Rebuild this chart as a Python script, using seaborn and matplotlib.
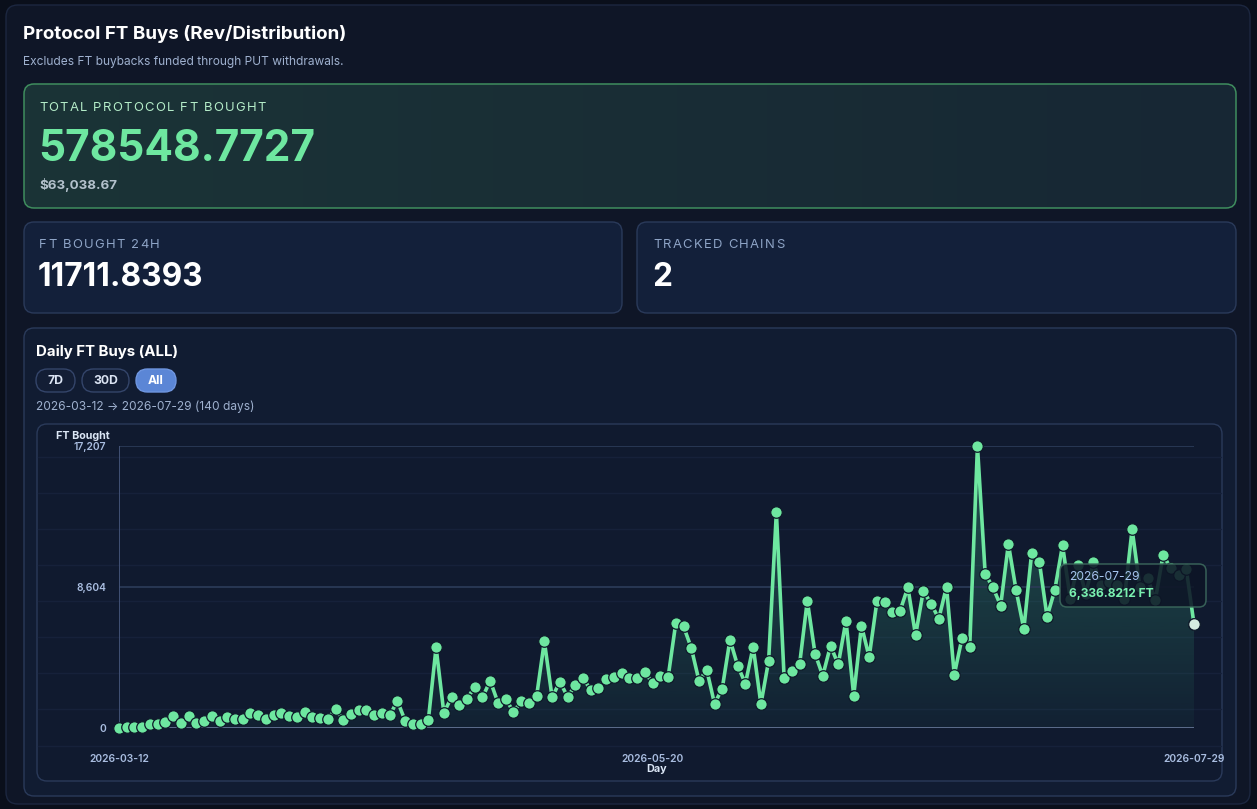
import numpy as np
import pandas as pd
import matplotlib
matplotlib.use("Agg")
import matplotlib.pyplot as plt
import seaborn as sns
from matplotlib.patches import FancyBboxPatch

# ─── Data ────────────────────────────────────────────────────────────────────

days = pd.date_range("2026-03-12", "2026-07-29", freq="D")
ft_bought = [
    0, 60, 80, 80, 225, 260, 385, 730, 305, 730,
    285, 425, 730, 445, 650, 530, 530, 935, 795, 530,
    795, 935, 730, 650, 995, 650, 590, 550, 1160, 490,
    835, 1100, 1100, 795, 895, 770, 1650, 445, 260, 225,
    490, 4925, 935, 1875, 1400, 1770, 2520, 1875, 2885, 1545,
    1790, 975, 1630, 1505, 1950, 5290, 1875, 2825, 1910, 2605,
    3050, 2320, 2440, 3010, 3095, 3375, 3050, 3050, 3415, 2725,
    3155, 3095, 6425, 6200, 4880, 2870, 3540, 1485, 2410, 5390,
    3790, 2715, 4960, 1455, 4105, 13180, 3070, 3455, 3875, 7770,
    4535, 3190, 5020, 3885, 6545, 1970, 6245, 4330, 7730, 7710,
    7060, 7160, 8585, 5655, 8380, 7585, 6670, 8620, 3250, 5475,
    4960, 17207, 9400, 8585, 7465, 11230, 8400, 6040, 10660, 10150,
    6790, 8420, 11150, 7900, 9950, 8200, 10100, 8700, 8900, 8700,
    7900, 12125, 8600, 9150, 7800, 10560, 9750, 9350, 9700, 6336.8212,
]
y_ticks = [0, 8604, 17207]
y_tick_labels = ["0", "8,604", "17,207"]
x_tick_days = ["2026-03-12", "2026-05-20", "2026-07-29"]

total_ft = "578548.7727"
total_usd = "$63,038.67"
ft_24h = "11711.8393"
tracked_chains = "2"
hover_day = "2026-07-29"
hover_value = "6,336.8212 FT"

# ─── Style ───────────────────────────────────────────────────────────────────

sns.set_theme(style="dark")
plt.rcParams["font.family"] = ["Inter", "DejaVu Sans"]

W, H = 1257, 809
GREEN = "#6ee7a0"
PAGE = "#0a0f1b"
PANEL = "#0f1627"
CARD = "#13203a"
BORDER = "#2a3a5a"

fig = plt.figure(figsize=(W / 100, H / 100), dpi=100, facecolor=PAGE)
renderer = fig.canvas.get_renderer()

# background layer in pixel coordinates
bg = fig.add_axes([0, 0, 1, 1], zorder=0)
bg.set_xlim(0, W)
bg.set_ylim(H, 0)
bg.axis("off")


def box(ax, x0, y0, x1, y1, fc, ec, r=10, lw=1.0, alpha=1.0, z=1):
    p = FancyBboxPatch((x0, y0), x1 - x0, y1 - y0,
                       boxstyle=f"round,pad=0,rounding_size={r}",
                       fc=fc, ec=ec, lw=lw, alpha=alpha, zorder=z)
    ax.add_patch(p)
    return p


def spaced_text(ax, x, y, s, spacing=1.3, **kw):
    # letter-spaced label, one glyph at a time
    for ch in s:
        t = ax.text(x, y, ch, va="center", **kw)
        x += t.get_window_extent(renderer).width + spacing


box(bg, 6, 5, 1250, 804, PANEL, "#1c2740", r=12)

# total card with horizontal gradient
card = box(bg, 24, 84, 1236, 208, "none", "#3f8d5e", r=10, lw=1.1, z=3)
grad = np.linspace(0, 1, 256)[None, :]
cmap = matplotlib.colors.LinearSegmentedColormap.from_list("g", ["#1b3437", "#172734"])
im = bg.imshow(grad, extent=(24, 1236, 208, 84), cmap=cmap, aspect="auto", zorder=2)
im.set_clip_path(card)

box(bg, 24, 222, 622, 313, CARD, BORDER, r=10)
box(bg, 637, 222, 1236, 313, CARD, BORDER, r=10)
box(bg, 24, 328, 1236, 796, "#111c32", BORDER, r=10)
box(bg, 37, 424, 1222, 781, "#101a2f", BORDER, r=10)

# faint stripe lines in chart frame
for yy in np.arange(456.7, 781, 36.1):
    bg.plot([38, 1221], [yy, yy], color="#16213a", lw=1, zorder=2)

bg.text(23, 34, "Protocol FT Buys (Rev/Distribution)", color="white",
        fontsize=13.5, fontweight="bold", va="center")
bg.text(23, 62, "Excludes FT buybacks funded through PUT withdrawals.",
        color="#9fb1cf", fontsize=8.6, va="center")

spaced_text(bg, 39, 108, "TOTAL PROTOCOL FT BOUGHT", color="#b4ecc8",
            fontsize=9.4, zorder=4)
bg.text(38, 149, total_ft, color=GREEN, fontsize=30.5, fontweight="bold",
        va="center", zorder=4)
bg.text(39, 185, total_usd, color="#b3c1cc", fontsize=9.6, fontweight="bold",
        va="center", zorder=4)

spaced_text(bg, 39, 245, "FT BOUGHT 24H", color="#8ea4c6", fontsize=9.4)
bg.text(38, 278, ft_24h, color="white", fontsize=22.8, fontweight="bold",
        va="center")
spaced_text(bg, 653, 245, "TRACKED CHAINS", color="#8ea4c6", fontsize=9.4)
bg.text(652, 278, tracked_chains, color="white", fontsize=22.8,
        fontweight="bold", va="center")

bg.text(36, 352, "Daily FT Buys (ALL)", color="white", fontsize=10.8,
        fontweight="bold", va="center")
for (x0, x1, lab, active) in [(36, 75, "7D", False), (82, 129, "30D", False),
                              (136, 176, "All", True)]:
    box(bg, x0, 369, x1, 392, "#5b86d6" if active else "#131e35",
        "#6f96e0" if active else "#34456a", r=11.5, z=2)
    bg.text((x0 + x1) / 2, 381, lab, color="white" if active else "#dbe4f3",
            fontsize=8.8, fontweight="bold", ha="center", va="center", zorder=3)
bg.text(36, 407, f"{days[0]:%Y-%m-%d} \u2192 {days[-1]:%Y-%m-%d} ({len(days)} days)",
        color="#9fb1cf", fontsize=8.6, va="center")

# ─── Chart ───────────────────────────────────────────────────────────────────

df = pd.DataFrame({"day": (days - days[0]).days, "ft": ft_bought})

left, right, top, bottom = 119, 1194, 446, 728
ax = fig.add_axes([left / W, (H - bottom) / H, (right - left) / W, (bottom - top) / H],
                  zorder=2)
ax.set_facecolor("none")
ax.set_xlim(df["day"].iloc[0], df["day"].iloc[-1])
ax.set_ylim(0, y_ticks[-1])

# gradient area under the line
fill = ax.fill_between(df["day"], df["ft"], 0, color="none", lw=0)
area_grad = np.linspace(0.42, 0.05, 256)[:, None]
rgba = np.zeros((256, 1, 4))
rgba[..., :3] = matplotlib.colors.to_rgb("#3aa57c")
rgba[..., 3] = area_grad
area = ax.imshow(rgba, extent=(df["day"].iloc[0], df["day"].iloc[-1], 0, y_ticks[-1]),
                 aspect="auto", origin="upper", zorder=1)
area.set_clip_path(fill.get_paths()[0], transform=ax.transData)

for yt in y_ticks:
    ax.axhline(yt, color="#2a3a56" if yt else "#5d6d8c", lw=1.3 if yt else 1.4, zorder=1.5)
ax.axvline(df["day"].iloc[0], color="#45557a", lw=1.3, zorder=1.5)

sns.lineplot(data=df, x="day", y="ft", ax=ax, color=GREEN, lw=2.6,
             marker="o", markersize=8.3, markeredgecolor="#0f1a2a",
             markeredgewidth=0.9, clip_on=False, zorder=3)
ax.scatter(df["day"].iloc[-1:], df["ft"].iloc[-1:], s=70, color="#d6ece0",
           edgecolor="#0f1a2a", lw=0.9, zorder=4, clip_on=False)

ax.set_yticks(y_ticks)
ax.set_yticklabels(y_tick_labels)
tick_pos = [(pd.Timestamp(d) - days[0]).days for d in x_tick_days]
ax.set_xticks(tick_pos)
ax.set_xticklabels(x_tick_days)
ax.tick_params(axis="y", colors="#a9bde0", labelsize=7.4, length=0, pad=9)
ax.tick_params(axis="x", colors="#a9bde0", labelsize=7.4, length=0, pad=19)
for lab in ax.get_xticklabels() + ax.get_yticklabels():
    lab.set_fontweight("semibold")
ax.set_xlabel("Day", color="#dbe6f5", fontsize=7.8, fontweight="bold", labelpad=0)
ax.set_ylabel("")
ax.grid(False)
for s in ax.spines.values():
    s.set_visible(False)

bg.text(110, 436, "FT Bought", color="#dbe6f5", fontsize=7.8,
        fontweight="bold", ha="right", va="center")

# ─── Tooltip overlay ─────────────────────────────────────────────────────────

top_ax = fig.add_axes([0, 0, 1, 1], zorder=5)
top_ax.set_xlim(0, W)
top_ax.set_ylim(H, 0)
top_ax.axis("off")
box(top_ax, 1060, 564, 1206, 607, "#0d1526", "#3d6b5e", r=7, lw=1.1, alpha=0.88)
top_ax.text(1069, 577, hover_day, color="#a6c4ee", fontsize=8.7, va="center")
top_ax.text(1069, 594, hover_value, color="#7af0b0", fontsize=8.7,
            fontweight="bold", va="center")

fig.savefig("out.png", dpi=100, facecolor=PAGE)
